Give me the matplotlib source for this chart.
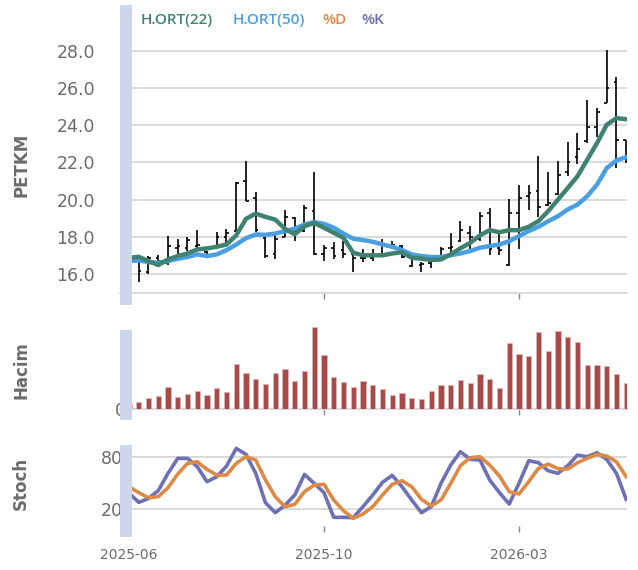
import matplotlib
matplotlib.use("Agg")
import matplotlib.pyplot as plt
from matplotlib.patches import Rectangle
import numpy as np
import pandas as pd

# Haftalik veriler (52 hafta)
tarihler = pd.date_range("2025-06-02", periods=52, freq="W-MON")

acilis = [16.8, 16.9, 16.1, 16.9, 16.6, 17.4, 17.4, 17.5, 17.2, 17.4,
          18.0, 18.3, 21.0, 20.1, 17.95, 17.1, 18.0, 19.0, 18.3, 19.4,
          17.1, 17.4, 17.3, 17.1, 16.9, 16.9, 17.0, 17.6, 17.5, 16.45,
          16.5, 16.6, 17.0, 17.4, 17.8, 18.2, 17.9, 19.3, 17.4, 16.5,
          19.3, 20.2, 20.45, 19.7, 20.3, 21.5, 22.3, 23.15, 23.9, 25.2,
          26.3, 23.2]
yuksek = [17.1, 17.0, 17.0, 17.05, 18.05, 17.9, 18.0, 18.4, 17.25, 18.25,
          18.45, 20.95, 22.1, 20.4, 18.0, 18.1, 19.45, 19.1, 19.7, 21.5,
          17.6, 17.75, 17.8, 17.15, 17.35, 17.35, 17.9, 17.8, 17.55, 17.0,
          16.65, 16.9, 17.45, 18.2, 18.85, 18.6, 19.35, 19.55, 18.15, 20.05,
          20.8, 20.8, 22.35, 21.5, 22.1, 23.1, 23.6, 25.35, 24.9, 28.05,
          26.6, 23.2]
dusuk = [16.5, 15.6, 16.0, 16.45, 16.5, 17.0, 17.25, 17.4, 17.0, 17.35,
         17.7, 18.3, 19.95, 18.25, 16.9, 16.8, 18.0, 17.8, 18.25, 17.05,
         16.7, 16.8, 16.9, 16.1, 16.65, 16.7, 16.95, 17.35, 16.9, 16.4,
         16.1, 16.35, 16.95, 17.15, 17.75, 17.35, 17.8, 17.05, 17.05, 16.45,
         17.35, 19.45, 19.1, 19.65, 20.25, 21.25, 21.9, 23.05, 23.35, 25.2,
         21.7, 21.95]
kapanis = [16.9, 16.2, 16.9, 16.7, 17.5, 17.5, 17.85, 17.55, 17.05, 18.0,
           18.2, 20.9, 19.95, 18.4, 17.0, 17.9, 19.05, 18.3, 19.55, 17.1,
           17.4, 17.0, 17.1, 16.9, 16.9, 17.05, 17.6, 17.6, 16.95, 16.9,
           16.55, 16.7, 17.35, 17.45, 18.4, 18.0, 19.15, 17.35, 17.3, 19.3,
           20.1, 20.35, 19.6, 19.85, 21.35, 22.0, 22.7, 23.9, 24.7, 26.0,
           23.2, 22.9]

hort22 = [16.89, 16.94, 16.71, 16.50, 16.80, 16.98, 17.12, 17.34, 17.39, 17.48,
          17.60, 18.09, 18.98, 19.26, 19.08, 18.94, 18.44, 18.15, 18.58, 18.76,
          18.50, 18.23, 17.96, 17.16, 17.02, 17.02, 17.02, 17.12, 17.19, 16.89,
          16.84, 16.77, 16.80, 17.07, 17.40, 17.69, 18.09, 18.37, 18.26, 18.37,
          18.37, 18.55, 18.85, 19.39, 20.01, 20.63, 21.26, 22.15, 23.04, 24.02,
          24.38, 24.32]
hort50 = [16.71, 16.75, 16.66, 16.62, 16.71, 16.84, 16.93, 17.07, 16.98, 17.07,
          17.30, 17.60, 17.94, 18.14, 18.12, 18.19, 18.32, 18.45, 18.67, 18.80,
          18.71, 18.50, 18.19, 17.91, 17.84, 17.75, 17.60, 17.48, 17.30, 17.07,
          16.98, 16.93, 16.93, 17.03, 17.12, 17.25, 17.43, 17.52, 17.60, 17.78,
          18.05, 18.32, 18.55, 18.85, 19.12, 19.48, 19.74, 20.19, 20.81, 21.70,
          22.11, 22.29]

hacim = [18, 21, 34, 39, 67, 37, 46, 55, 43, 64,
         53, 136, 110, 91, 75, 110, 121, 86, 114, 248,
         164, 97, 82, 67, 85, 74, 60, 44, 49, 33,
         30, 54, 74, 73, 87, 80, 106, 90, 64, 198,
         166, 159, 232, 174, 234, 218, 201, 134, 133, 129,
         105, 78]

stoch_k = [38.0, 27.3, 31.9, 40.8, 60.8, 78.1, 78.1, 68.5, 51.2, 56.9,
           69.2, 89.6, 82.7, 60.8, 26.9, 15.4, 23.8, 35.8, 59.6, 49.2,
           38.5, 10.0, 10.0, 9.6, 22.3, 35.8, 50.4, 58.5, 45.4, 30.0,
           15.4, 22.3, 49.2, 70.4, 85.8, 76.9, 76.2, 53.1, 38.5, 25.4,
           49.2, 75.4, 73.1, 63.8, 60.8, 69.6, 81.9, 80.0, 84.6, 76.9,
           60.8, 30.8]
stoch_d = [45.4, 38.5, 32.7, 33.8, 44.2, 60.0, 72.3, 74.2, 65.4, 58.8,
           58.8, 72.3, 80.0, 76.2, 53.1, 33.8, 22.3, 25.0, 39.6, 47.3,
           48.1, 30.0, 17.7, 8.8, 13.8, 22.3, 35.8, 48.1, 52.3, 45.4,
           30.8, 23.1, 30.0, 49.2, 69.6, 78.8, 80.0, 70.4, 57.7, 39.6,
           36.9, 51.2, 66.5, 71.5, 66.2, 65.8, 73.1, 78.1, 82.7, 80.8,
           74.2, 56.9]

etiket_idx = [0, 20, 40]

# Renkler
yesil = "#3f8272"
mavi = "#4a9fe3"
turuncu = "#dc8a45"
mor = "#6e70b5"
bordo = "#a84a4a"
grid_renk = "#d9d9d9"
yazi_renk = "#6b6b6b"
serit_renk = "#cdd6eb"

W, H = 638, 570
fig = plt.figure(figsize=(W / 100, H / 100), dpi=100)


def kutu(x0, y0, x1, y1):
    # piksel koordinatlarini figur oranina cevir (y yukaridan)
    return [x0 / W, (H - y1) / H, (x1 - x0) / W, (y1 - y0) / H]


ax1 = fig.add_axes(kutu(120, 4, 626.5, 293))
ax2 = fig.add_axes(kutu(120, 326.7, 626.5, 409.3))
ax3 = fig.add_axes(kutu(120, 439.4, 626.5, 526))

x = np.arange(len(kapanis))

# Fiyat paneli
ax1.vlines(x, dusuk, yuksek, color="black", lw=1.2, zorder=3)
ax1.hlines(acilis, x - 0.28, x, color="black", lw=1.2, zorder=3)
ax1.hlines(kapanis, x, x + 0.28, color="black", lw=1.2, zorder=3)
ax1.plot(x, hort50, color=mavi, lw=3.2, zorder=4, solid_capstyle="round")
ax1.plot(x, hort22, color=yesil, lw=3.2, zorder=5, solid_capstyle="round")
ax1.set_ylim(15, 30.5)
ax1.set_yticks([16, 18, 20, 22, 24, 26, 28])
ax1.set_yticklabels([f"{v:.1f}" for v in [16, 18, 20, 22, 24, 26, 28]])

# Hacim paneli
ax2.bar(x, hacim, width=0.55, color=bordo, edgecolor="#e3b9b9", linewidth=0.5, zorder=3)
ax2.set_ylim(0, max(hacim))
ax2.set_yticks([0])
ax2.set_yticklabels(["0"])

# Stokastik paneli
ax3.plot(x, stoch_d, color=turuncu, lw=2.6, zorder=4)
ax3.plot(x, stoch_k, color=mor, lw=2.6, zorder=3)
ax3.set_ylim(0, 100)
ax3.set_yticks([20, 80])
ax3.set_yticklabels(["20", "80"])

for ax in (ax1, ax2, ax3):
    ax.set_xlim(-0.923, 51.03)
    ax.set_facecolor("none")
    for s in ax.spines.values():
        s.set_visible(False)
    ax.set_xticks(etiket_idx)
    ax.set_xticklabels([])
    ax.tick_params(axis="x", length=4, width=1, color="#888888", direction="out")
    ax.tick_params(axis="y", length=0, labelsize=12.5, labelcolor=yazi_renk)
    ax.grid(axis="y", color=grid_renk, lw=1.4, zorder=0)

ax1.tick_params(axis="y", pad=18)
ax2.tick_params(axis="y", pad=-4)
ax3.tick_params(axis="y", pad=-2)

ax1.spines["bottom"].set_visible(True)
ax1.spines["bottom"].set_color(grid_renk)
ax1.spines["bottom"].set_linewidth(1.4)
ax2.spines["bottom"].set_visible(True)
ax2.spines["bottom"].set_color(grid_renk)
ax2.spines["bottom"].set_linewidth(1.4)
ax2.grid(False)

ax3.set_xticklabels([tarihler[i].strftime("%Y-%m") for i in etiket_idx])
ax3.tick_params(axis="x", labelsize=10, labelcolor=yazi_renk, pad=12)

# Sol seritler
for y0, y1 in [(5, 305), (330, 420), (445, 537)]:
    fig.add_artist(Rectangle((120 / W, (H - y1) / H), 11.7 / W, (y1 - y0) / H,
                             transform=fig.transFigure, color=serit_renk,
                             lw=0, zorder=5))

# Eksen adlari
for metin, yc in [("PETKM", 165), ("Hacim", 370), ("Stoch", 483)]:
    fig.text(21 / W, (H - yc) / H, metin, rotation=90, ha="center", va="center",
             fontsize=12, fontweight="bold", color=yazi_renk)

# Gosterge yazilari
for metin, renk, xp in [("H.ORT(22)", yesil, 141), ("H.ORT(50)", mavi, 233),
                        ("%D", turuncu, 322), ("%K", mor, 361)]:
    fig.text(xp / W, (H - 20) / H, metin, ha="left", va="center",
             fontsize=11, fontweight="semibold", color=renk,
             family=["Open Sans", "DejaVu Sans"])

fig.savefig("out.png", dpi=100)
